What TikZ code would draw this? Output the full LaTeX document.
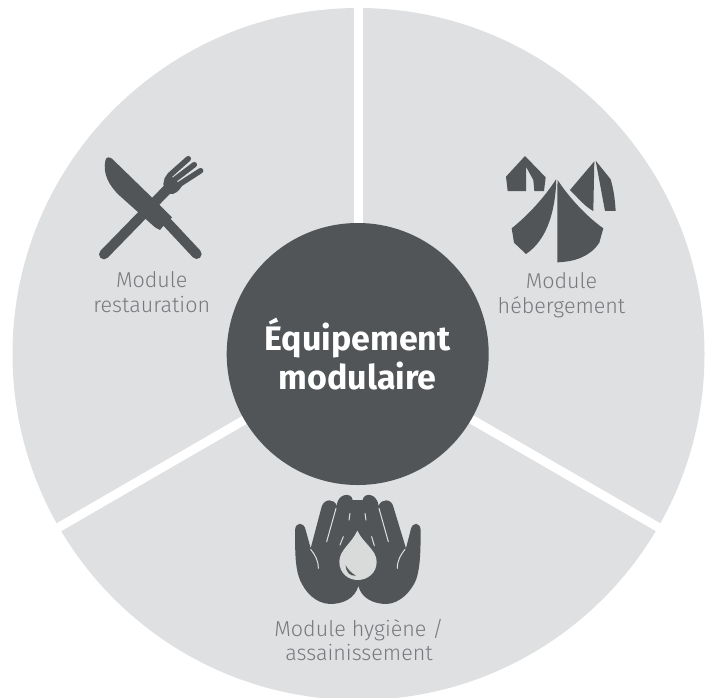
\documentclass[tikz,border=0pt]{standalone}
\usepackage{fontspec}
\setmainfont{Fira Sans}
\newfontfamily\lightfont{Fira Sans Light}
\definecolor{disc}{HTML}{DFE0E2}
\definecolor{dark}{HTML}{515558}
\definecolor{lab}{HTML}{77797C}
\definecolor{drop}{HTML}{D9DADA}
\tikzset{
  sector/.style={fill=disc,draw=none},
  gap/.style={draw=white,line width=9pt},
  hub/.style={circle,fill=dark,minimum size=262pt,inner sep=0pt,text=white,align=center,font=\bfseries\fontsize{34}{39}\selectfont},
  modlabel/.style={text=lab,align=center,inner sep=0pt,font=\lightfont\fontsize{21.5}{24.5}\selectfont},
  ink/.style={fill=dark,draw=none},
  zoomed/.style={x=0.3333pt,y=-0.3333pt},
  slit/.style={draw=disc,line width=1pt,line cap=round}
}
\begin{document}
\begin{tikzpicture}[x=1pt,y=-1pt]
\useasboundingbox (0,0) rectangle (712,697);
\clip (0,0) rectangle (712,697);
\coordinate (c) at (358.5,354);
\fill[sector] (c) circle (346pt);
\coordinate (t) at (358.5,-10);
\coordinate (l) at (-3,563);
\coordinate (r) at (720,563);
\draw[gap] (c) -- (t);
\draw[gap] (c) -- (l);
\draw[gap] (c) -- (r);
\node[hub] (h) at (357.7,354) {Équipement\\modulaire};
\node[modlabel] (m1) at (151.7,292) {Module\\restauration};
\node[modlabel] (m2) at (561.5,295) {Module\\hébergement};
\node[modlabel] (m3) at (359,640) {Module hygiène /\\assainissement};
% cutlery
\begin{scope}[shift={(80,130)},zoomed]
\draw[dark,line width=10pt,line cap=round] (72,373) -- (265,175);
\draw[dark,line width=5.5pt,line cap=round] (270,135) -- (325,86);
\draw[dark,line width=5.5pt,line cap=round] (285,148) -- (343,104);
\draw[dark,line width=5.5pt,line cap=round] (300,162) -- (362,122);
\draw[dark,line width=5.5pt,fill=dark] (270,135) .. controls (255,150) and (255,175) .. (268,183) .. controls (280,188) and (292,175) .. (300,162);
\fill[ink] (76,92) .. controls (78,80) and (88,80) .. (96,86) -- (242,228) -- (276,262) -- (250,288) -- (240,300) -- (225,292) -- (120,198) .. controls (86,167) and (68,130) .. (76,92) -- cycle;
\draw[dark,line width=10pt,line cap=round] (250,265) -- (350,372);
\end{scope}
% tents
\begin{scope}[shift={(490,140)},zoomed]
\fill[ink] (105,48) -- (48,110) -- (53,153) -- (108,153) -- (108,80) -- (130,120) -- (133,153) -- (162,153) -- (167,112) -- cycle;
\fill[ink] (313,64) -- (240,150) .. controls (265,175) and (285,200) .. (310,213) -- cycle;
\fill[ink] (317,62) -- (345,213) -- (377,213) .. controls (375,175) and (370,145) .. (362,118) -- cycle;
\fill[ink] (198,118) .. controls (165,170) and (115,225) .. (65,265) -- (72,308) -- (108,342) .. controls (155,310) and (190,250) .. (198,140) -- cycle;
\fill[ink] (203,120) .. controls (235,170) and (290,230) .. (340,265) -- (328,308) .. controls (300,350) and (255,365) .. (202,367) -- (202,145) -- cycle;
\end{scope}
% hands
\begin{scope}[shift={(280,480)},zoomed]
\fill[ink] (235,318) .. controls (225,355) and (190,372) .. (150,372) .. controls (105,370) and (75,335) .. (60,300)
  .. controls (48,270) and (45,240) .. (45,150) .. controls (47,125) and (72,125) .. (77,150) -- (92,205)
  -- (125,80) .. controls (132,55) and (165,55) .. (170,78) .. controls (172,40) and (215,35) .. (218,60)
  -- (248,60) .. controls (252,35) and (292,40) .. (296,78) .. controls (302,55) and (335,55) .. (340,80)
  -- (378,205) -- (392,150) .. controls (397,125) and (420,125) .. (422,150)
  .. controls (422,240) and (418,270) .. (408,300) .. controls (393,335) and (360,370) .. (320,372)
  .. controls (280,372) and (245,355) .. (235,318) -- cycle;
\draw[slit] (140,185) -- (168,85);
\draw[slit] (180,195) -- (190,170);
\draw[slit] (207,120) -- (210,100);
\draw[slit] (258,120) -- (255,100);
\draw[slit] (283,197) -- (275,170);
\draw[slit] (325,185) -- (297,85);
\draw[slit] (92,208) .. controls (105,225) and (115,240) .. (115,265);
\draw[slit] (375,208) .. controls (362,225) and (352,240) .. (352,265);
\fill[drop] (232,152) .. controls (215,190) and (178,210) .. (178,245) .. controls (178,280) and (205,300) .. (233,300) .. controls (262,300) and (290,280) .. (290,245) .. controls (290,210) and (250,190) .. (232,152) -- cycle;
\fill[ink] (197,256) .. controls (205,270) and (215,280) .. (228,287) .. controls (210,290) and (197,275) .. (197,256) -- cycle;
\end{scope}
\end{tikzpicture}
\end{document}
